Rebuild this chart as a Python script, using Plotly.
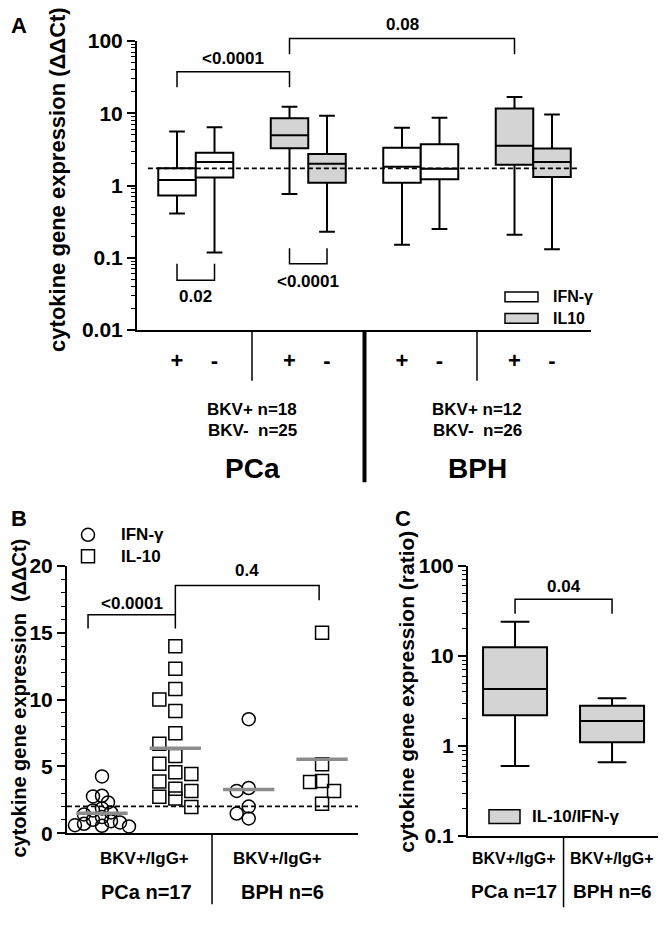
import numpy as np
import plotly.graph_objects as go

# page is rendered with the default 8px body margin: work in page pixels, convert to figure
W, H = 666, 928
OFF = 8
FW, FH = W - OFF, H - OFF
FONT = "Liberation Sans, Arial, Helvetica, sans-serif"
GRAY = "#d4d4d4"
MEANGRAY = "#8c8c8c"
DASH = "5px,3px"

# ---------------- Panel A data (box summaries, ΔΔCt) ----------------
a_site = ["PCa", "PCa", "PCa", "PCa", "BPH", "BPH", "BPH", "BPH"]
a_cytokine = ["IFN-γ", "IFN-γ", "IL10", "IL10", "IFN-γ", "IFN-γ", "IL10", "IL10"]
a_bkv = ["+", "-", "+", "-", "+", "-", "+", "-"]
a_min = [0.41, 0.118, 0.76, 0.23, 0.151, 0.25, 0.209, 0.131]
a_q1 = [0.73, 1.29, 3.29, 1.09, 1.09, 1.22, 1.94, 1.31]
a_median = [1.19, 2.11, 4.94, 2.0, 1.82, 1.70, 3.55, 2.11]
a_q3 = [1.73, 2.85, 8.5, 2.73, 3.34, 3.73, 11.6, 3.26]
a_max = [5.59, 6.4, 12.3, 9.2, 6.32, 8.64, 16.8, 9.6]
a_threshold = 1.73
a_yticks = [0.01, 0.1, 1, 10, 100]
a_ytick_labels = ["0.01", "0.1", "1", "10", "100"]
a_group_text = {"PCa": ("BKV+ n=18", "BKV-  n=25"), "BPH": ("BKV+ n=12", "BKV-  n=26")}
a_pvalues = ["<0.0001", "0.08", "0.02", "<0.0001"]

# ---------------- Panel B data (individual ΔΔCt values) ----------------
b_ifn_pca = [4.25, 2.8, 2.75, 2.3, 1.85, 1.7, 1.55, 1.4, 1.2, 1.0, 0.9, 0.8, 0.7, 0.6, 0.55, 0.5, 0.4]
b_il10_pca = [14.0, 12.3, 10.8, 10.0, 9.15, 7.47, 6.7, 5.77, 5.2, 4.43, 4.55, 3.87, 3.33, 2.72, 3.16, 2.6, 1.95]
b_ifn_bph = [8.53, 3.38, 3.16, 1.99, 1.47, 1.1]
b_il10_bph = [15.0, 5.15, 3.82, 3.9, 3.16, 2.2]
b_threshold = 2.0
b_yticks = [0, 5, 10, 15, 20]
b_pvalues = ["<0.0001", "0.4"]

# ---------------- Panel C data (IL-10/IFN-γ ratio box summaries) ----------------
c_groups = ["PCa n=17", "BPH n=6"]
c_min = [0.6, 0.66]
c_q1 = [2.2, 1.1]
c_median = [4.3, 1.9]
c_q3 = [12.5, 2.8]
c_max = [24.0, 3.4]
c_yticks = [0.1, 1, 10, 100]
c_ytick_labels = ["0.1", "1", "10", "100"]
c_pvalue = "0.04"


def px(x):
    return (x - OFF) / FW


def py(y):
    return 1 - (y - OFF) / FH


def bold(s):
    return "<b>" + s + "</b>"


def minor_log(lo, hi):
    vals = []
    for e in range(lo, hi):
        for m in range(2, 10):
            vals.append(m * 10 ** e)
    return vals


fig = go.Figure()
shapes = []
ann = []


def text(x, y, s, size, xanchor="center", angle=0, xref="paper"):
    ann.append(dict(xref=xref, yref="paper", x=x if xref != "paper" else px(x), y=py(y), text=bold(s),
                    showarrow=False, xanchor=xanchor, yanchor="middle", textangle=angle,
                    font=dict(size=size, family=FONT, color="black")))


def bracket(xref, xa, xb, yh, ya_end, yb_end, label, ly, lsize=17):
    shapes.append(dict(type="path", xref=xref, yref="paper",
                       path=f"M {xa},{py(ya_end)} L {xa},{py(yh)} L {xb},{py(yh)} L {xb},{py(yb_end)}",
                       line=dict(color="black", width=1.5)))
    text((xa + xb) / 2, ly, label, lsize, xref=xref)


# ================= Panel A =================
a_slot = [i // 2 * 3 + i % 2 for i in range(len(a_median))]  # layout positions
A_X0, A_X1, A_YT, A_YB = 137, 591, 29.5, 326
a_xr = [-1.067, 11.04]
for i in range(len(a_median)):
    fig.add_trace(go.Box(
        x=[a_slot[i]], q1=[a_q1[i]], median=[a_median[i]], q3=[a_q3[i]],
        lowerfence=[a_min[i]], upperfence=[a_max[i]],
        width=1.0, whiskerwidth=0.42,
        fillcolor="white" if a_cytokine[i] == "IFN-γ" else GRAY,
        line=dict(color="black", width=2),
        xaxis="x", yaxis="y", showlegend=False, hoverinfo="skip"))

shapes.append(dict(type="line", xref="x domain", yref="y", x0=0.024, x1=0.974,
                   y0=a_threshold, y1=a_threshold, line=dict(color="black", width=1.8, dash=DASH)))
for xs, w, yb in [(2, 1.5, 378), (8, 1.5, 378), (5, 4, 482)]:
    shapes.append(dict(type="line", xref="x", yref="paper", x0=xs, x1=xs,
                       y0=py(A_YB), y1=py(yb), line=dict(color="black", width=w)))

bracket("x", a_slot[0], a_slot[2], 61, 77, 77, a_pvalues[0], 47)
bracket("x", a_slot[2], a_slot[6], 27, 43, 43, a_pvalues[1], 13)
bracket("x", a_slot[0], a_slot[1], 275, 258, 258, a_pvalues[2], 292)
bracket("x", a_slot[2], a_slot[3], 258, 242, 242, a_pvalues[3], 276)

for (lab, fill, yc) in [("IFN-γ", "white", 292), ("IL10", GRAY, 314)]:
    shapes.append(dict(type="rect", xref="paper", yref="paper", x0=px(505), x1=px(538),
                       y0=py(yc - 5), y1=py(yc + 5), fillcolor=fill, line=dict(color="black", width=1.5)))
    text(551, yc, lab, 16, xanchor="left")

for site, xs in [("PCa", 2), ("BPH", 8)]:
    t1, t2 = a_group_text[site]
    text(xs, 408, t1, 17, xref="x")
    text(xs, 429, t2, 17, xref="x")
    text(xs, 468, site, 28, xref="x")

text(58, 172, "cytokine gene expression (ΔΔCt)", 22, angle=-90)
text(9, 14, "A", 22, xanchor="left")

# ================= Panel B =================
B_X0, B_X1, B_YT, B_YB = 67, 358, 568, 842
b_xr = [-0.477, 3.49]
b_ppu_x = (B_X1 - B_X0) / (b_xr[1] - b_xr[0])
b_ppu_y = (B_YB - B_YT) / 20.0


def beeswarm(values, diam, step, kmax):
    """Horizontal offsets (data units) that keep markers of one group apart."""
    vals = np.asarray(values, dtype=float)
    order = np.argsort(-vals, kind="stable")
    placed = []
    offs = np.zeros(len(vals))
    cands = [0.0]
    for j in range(1, kmax + 1):
        cands += [-j * step, j * step]
    for i in order:
        yv = vals[i] * b_ppu_y
        best, bestd = 0.0, -1.0
        chosen = None
        for c in cands:
            d = min([np.hypot(c - ox, yv - oy) for ox, oy in placed] + [1e9])
            if d >= diam:
                chosen = c
                break
            if d > bestd:
                best, bestd = c, d
        if chosen is None:
            chosen = best
        offs[i] = chosen
        placed.append((chosen, yv))
    return offs / b_ppu_x


b_series = [(b_ifn_pca, "circle-open", 0, 8.5, 3, 12), (b_il10_pca, "square-open", 1, 12, 16, 1),
            (b_ifn_bph, "circle-open", 2, 12, 12, 2), (b_il10_bph, "square-open", 3, 12, 12, 2)]
for vals, sym, pos, diam, step, kmax in b_series:
    xo = beeswarm(vals, diam, step, kmax)
    fig.add_trace(go.Scatter(x=pos + xo, y=vals, mode="markers", xaxis="x2", yaxis="y2",
                             marker=dict(symbol=sym, size=13, color="black", line=dict(width=1.5)),
                             showlegend=False, hoverinfo="skip", cliponaxis=False))
    m = float(np.mean(vals))
    fig.add_trace(go.Scatter(x=[pos - 0.35, pos + 0.35], y=[m, m], mode="lines", xaxis="x2", yaxis="y2",
                             line=dict(color=MEANGRAY, width=3.5), showlegend=False, hoverinfo="skip"))

shapes.append(dict(type="line", xref="x2 domain", yref="y2", x0=0, x1=1, y0=b_threshold, y1=b_threshold,
                   line=dict(color="black", width=1.8, dash=DASH)))
shapes.append(dict(type="line", xref="x2", yref="paper", x0=1.5, x1=1.5, y0=py(B_YB), y1=py(915),
                   line=dict(color="black", width=1.5)))
bracket("x2", -0.19, 1, 618, 632, 632, b_pvalues[0], 606)
bracket("x2", 1, 2.96, 588, 618, 603, b_pvalues[1], 573)

for (lab, sym, yc) in [("IFN-γ", "circle", 536), ("IL-10", "rect", 558)]:
    shapes.append(dict(type=sym, xref="paper", yref="paper", xsizemode="pixel", ysizemode="pixel",
                       xanchor=px(88), yanchor=py(yc), x0=-6.5, x1=6.5, y0=-6.5, y1=6.5,
                       line=dict(color="black", width=1.5), fillcolor="rgba(0,0,0,0)"))
    text(119, yc, lab, 17, xanchor="left")

for t, xc, yc, sz in [("BKV+/IgG+", 144, 868, 17), ("BKV+/IgG+", 277, 868, 17),
                      ("PCa n=17", 146, 902, 20), ("BPH n=6", 282, 902, 20)]:
    text(xc, yc, t, sz)

text(19, 704, "cytokine gene expression  (ΔΔCt)", 20, angle=-90)
text(9, 519, "B", 22, xanchor="left")

# ================= Panel C =================
C_X0, C_X1, C_YT, C_YB = 468, 662, 568, 845
c_xr = [-0.485, 1.515]
for i in range(len(c_median)):
    fig.add_trace(go.Box(
        x=[i], q1=[c_q1[i]], median=[c_median[i]], q3=[c_q3[i]],
        lowerfence=[c_min[i]], upperfence=[c_max[i]],
        width=0.66, whiskerwidth=0.45, fillcolor=GRAY,
        line=dict(color="black", width=2),
        xaxis="x3", yaxis="y3", showlegend=False, hoverinfo="skip"))

shapes.append(dict(type="line", xref="x3", yref="paper", x0=0.5, x1=0.5, y0=py(C_YB), y1=py(918),
                   line=dict(color="black", width=1.5)))
bracket("x3", 0, 1, 602, 617, 617, c_pvalue, 589)
shapes.append(dict(type="rect", xref="paper", yref="paper", x0=px(489), x1=px(520),
                   y0=py(832), y1=py(818), fillcolor=GRAY, line=dict(color="black", width=1.5)))
text(530, 825, "IL-10/IFN-γ", 17, xanchor="left")
for t, xc, yc, sz in [("BKV+/IgG+", 514, 868, 16), ("BKV+/IgG+", 612, 868, 16),
                      ("PCa n=17", 514, 902, 19), ("BPH n=6", 612, 902, 19)]:
    text(xc, yc, t, sz)
text(407, 697, "cytokine gene expression (ratio)", 21, angle=-90)
text(393, 519, "C", 22, xanchor="left")

# ================= Layout =================
tickfont = dict(size=21, family=FONT, color="black", weight="bold")
common_y = dict(showline=True, linecolor="black", linewidth=2, ticks="outside", ticklen=8, tickwidth=2,
                tickcolor="black", showgrid=False, zeroline=False, tickfont=tickfont)
common_x = dict(showline=True, linecolor="black", linewidth=2, showgrid=False, zeroline=False)

fig.update_layout(
    width=FW, height=FH, margin=dict(l=0, r=0, t=0, b=0),
    paper_bgcolor="white", plot_bgcolor="white", showlegend=False, boxmode="overlay",
    font=dict(family=FONT, color="black"),
    xaxis=dict(domain=[px(A_X0), px(A_X1)], range=a_xr, tickmode="array", tickvals=a_slot, ticktext=a_bkv,
               ticks="outside", ticklen=10, tickcolor="rgba(0,0,0,0)",
               tickfont=dict(size=22, family=FONT, color="black", weight="bold"), anchor="y", **common_x),
    yaxis=dict(domain=[py(A_YB), py(A_YT)], type="log", range=[-2, 2], tickmode="array",
               tickvals=a_yticks, ticktext=a_ytick_labels, anchor="x",
               minor=dict(tickmode="array", tickvals=minor_log(-2, 2), ticks="outside", ticklen=4,
                          tickwidth=1.2, tickcolor="black"), **common_y),
    xaxis2=dict(domain=[px(B_X0), px(B_X1)], range=b_xr, showticklabels=False, ticks="", anchor="y2", **common_x),
    yaxis2=dict(domain=[py(B_YB), py(B_YT)], range=[0, 20], tickmode="array", tickvals=b_yticks, anchor="x2",
                minor=dict(dtick=1, ticks="outside", ticklen=4, tickwidth=1.2, tickcolor="black"), **common_y),
    xaxis3=dict(domain=[px(C_X0), px(C_X1)], range=c_xr, showticklabels=False, ticks="", anchor="y3", **common_x),
    yaxis3=dict(domain=[py(C_YB), py(C_YT)], type="log", range=[-1, 2], tickmode="array",
                tickvals=c_yticks, ticktext=c_ytick_labels, anchor="x3",
                minor=dict(tickmode="array", tickvals=minor_log(-1, 2), ticks="outside", ticklen=4,
                           tickwidth=1.2, tickcolor="black"), **common_y),
    shapes=shapes, annotations=ann,
)

fig.write_html("out.html")
